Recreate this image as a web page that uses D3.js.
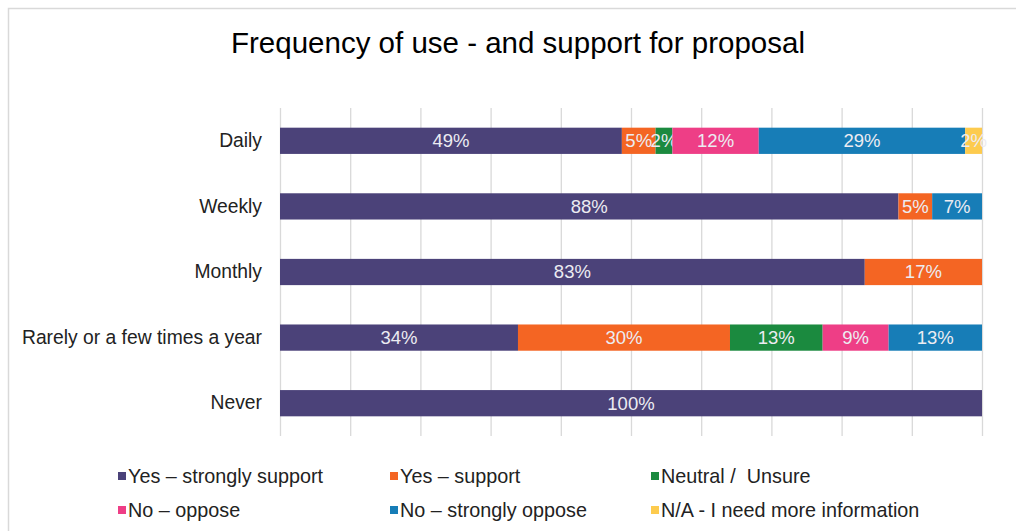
<!DOCTYPE html>
<html>
<head>
<meta charset="utf-8">
<script src="https://cdn.jsdelivr.net/npm/d3@7"></script>
<style>
  body { margin: 0; background: #fff; }
  svg { font-family: "Liberation Sans", Arial, sans-serif; }
  .legend text { white-space: pre; }
</style>
</head>
<body>
<svg id="chart" width="1016" height="531"></svg>
<script>
// rows of the chart, top to bottom
var categories = ["Daily", "Weekly", "Monthly", "Rarely or a few times a year", "Never"];

var seriesNames = ["Yes \u2013 strongly support", "Yes \u2013 support", "Neutral /  Unsure",
                   "No \u2013 oppose", "No \u2013 strongly oppose", "N/A - I need more information"];

var seriesColours = ["#4b4279", "#f46523", "#1b8a3f", "#ee3e86", "#177db7", "#fdcb4e"];

// one array per series, same order as categories (percent)
var strongSupport = [48.7, 88.1, 83.3, 33.9, 100];
var support       = [4.8, 4.8, 16.7, 30.2, 0];
var neutral       = [2.4, 0, 0, 13.2, 0];
var oppose        = [12.3, 0, 0, 9.4, 0];
var strongOppose  = [29.4, 7.1, 0, 13.3, 0];
var needInfo      = [2.4, 0, 0, 0, 0];

var xTicks = [0, 10, 20, 30, 40, 50, 60, 70, 80, 90, 100];

var seriesValues = [strongSupport, support, neutral, oppose, strongOppose, needInfo];

var rows = categories.map(function (c, i) {
  var r = {category: c};
  seriesNames.forEach(function (s, j) { r[s] = seriesValues[j][i]; });
  return r;
});

var svg = d3.select("#chart");

// chart frame
svg.append("rect")
   .attr("x", 8.5).attr("y", 8.5)
   .attr("width", 1020).attr("height", 540)
   .attr("fill", "none")
   .attr("stroke", "#d9d9d9")
   .attr("stroke-width", 1.5);

svg.append("text")
   .attr("x", 518)
   .attr("y", 53)
   .attr("text-anchor", "middle")
   .attr("font-size", 29.5)
   .attr("fill", "#000")
   .text("Frequency of use - and support for proposal");

var margin = {left: 280, right: 34, top: 108, bottom: 95};
var width = 1016 - margin.left - margin.right,
    height = 531 - margin.top - margin.bottom;

var g = svg.append("g")
   .attr("transform", `translate(${margin.left},${margin.top})`);

var x = d3.scaleLinear().domain([0, 100]).range([0, width]);
var y = d3.scaleBand().domain(categories).range([0, height]).paddingInner(0.6).paddingOuter(0.3);

// gridlines + ticks below plot
g.append("g")
 .attr("class", "grid")
 .attr("transform", `translate(0,${height})`)
 .call(d3.axisBottom(x).tickValues(xTicks).tickSize(-height).tickFormat(""))
 .call(function (a) {
   a.select(".domain").remove();
   a.selectAll("line").attr("stroke", "#d9d9d9").attr("stroke-width", 1.3)
     .attr("y2", -height).attr("y1", 0);
 });

var stack = d3.stack().keys(seriesNames);
var stacked = stack(rows);

var layer = g.selectAll(".layer")
   .data(stacked)
   .enter().append("g")
   .attr("class", "layer")
   .attr("fill", (d, i) => seriesColours[i]);

layer.selectAll("rect")
   .data(d => d.filter(p => p[1] - p[0] > 0))
   .enter().append("rect")
   .attr("x", d => x(d[0]))
   .attr("y", d => y(d.data.category))
   .attr("width", d => x(d[1]) - x(d[0]))
   .attr("height", y.bandwidth());

layer.selectAll("text")
   .data(d => d.filter(p => p[1] - p[0] > 0))
   .enter().append("text")
   .attr("x", d => x((d[0] + d[1]) / 2))
   .attr("y", d => y(d.data.category) + y.bandwidth() / 2)
   .attr("dy", "0.35em")
   .attr("text-anchor", "middle")
   .attr("font-size", 18.5)
   .attr("fill", "#ececf2")
   .text(d => Math.round(d[1] - d[0]) + "%");

// category axis
var yAxis = g.append("g")
   .call(d3.axisLeft(y).tickSize(0).tickPadding(18));
yAxis.select(".domain").remove();
yAxis.selectAll("text")
   .attr("font-size", 19.3)
   .attr("fill", "#222")
   .attr("font-family", "Liberation Sans, Arial, sans-serif");

// legend
var legendCols = [118, 390, 651];
var legendRows = [476, 510];
var legend = svg.selectAll(".legend")
   .data(seriesNames)
   .enter().append("g")
   .attr("class", "legend")
   .attr("transform", (d, i) => `translate(${legendCols[i % 3]},${legendRows[Math.floor(i / 3)]})`);

legend.append("rect")
   .attr("x", 0).attr("y", -4)
   .attr("width", 8).attr("height", 8)
   .attr("fill", (d, i) => seriesColours[i]);

legend.append("text")
   .attr("x", 10)
   .attr("dy", "0.35em")
   .attr("font-size", 19.8)
   .attr("fill", "#222")
   .text(d => d);
</script>
</body>
</html>
